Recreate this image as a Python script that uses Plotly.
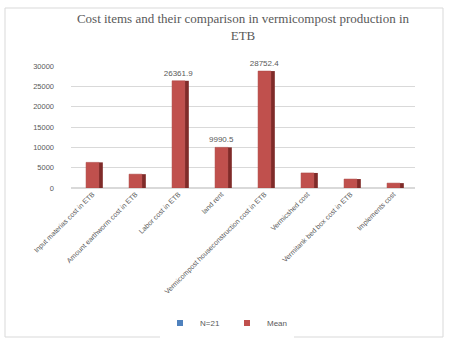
import plotly.graph_objects as go

categories = [
    "Input materias cost in ETB",
    "Amount earthworm cost in ETB",
    "Labor cost in ETB",
    "land rent",
    "Vermicompost houseconstruction cost in ETB",
    "Vermicshed cost",
    "Vermitank bed box cost in ETB",
    "Implements cost",
]
mean_values = [6300, 3400, 26361.9, 9990.5, 28752.4, 3700, 2200, 1200]
mean_labels = ["", "", "26361.9", "9990.5", "28752.4", "", "", ""]
series_names = ["N=21", "Mean"]
y_ticks = [0, 5000, 10000, 15000, 20000, 25000, 30000]

RED = "#C0504D"
RED_DARK = "#7F2B29"
BLUE = "#4F81BD"
GREY = "#595959"

fig = go.Figure()
fig.add_trace(go.Bar(
    x=categories, y=mean_values, name="side",
    marker=dict(color=RED_DARK, line=dict(width=0)),
    offset=0.15, width=0.09, showlegend=False, hoverinfo="skip",
))
fig.add_trace(go.Bar(
    x=categories, y=mean_values, name="Mean",
    marker=dict(color=RED, line=dict(color="#A94441", width=0.5)),
    offset=-0.15, width=0.3,
    text=mean_labels, textposition="outside", constraintext="none",
    textfont=dict(family="Liberation Sans, Arial", size=8, color=GREY),
    cliponaxis=False, showlegend=False,
))
for nm, col in zip(series_names, [BLUE, RED]):
    fig.add_trace(go.Scatter(
        x=[None], y=[None], mode="markers", name=nm,
        marker=dict(symbol="square", size=6, color=col),
    ))

fig.update_layout(
    width=457, height=347,
    barmode="overlay",
    paper_bgcolor="white", plot_bgcolor="white",
    margin=dict(l=71, r=42, t=66, b=159, autoexpand=False),
    title=dict(
        text="Cost items and their comparison in vermicompost production in<br>ETB",
        font=dict(family="Liberation Serif, Times New Roman", size=13, color=GREY),
        x=0.5, xanchor="center", xref="paper",
        y=1 - 23 / 347, yanchor="middle", yref="container",
    ),
    xaxis=dict(
        tickangle=-45,
        tickfont=dict(family="Liberation Sans, Arial", size=7, color=GREY),
        showgrid=False, showline=False, ticks="",
        automargin=False,
    ),
    yaxis=dict(
        range=[0, 30000],
        tickvals=y_ticks,
        tickformat="d",
        tickfont=dict(family="Liberation Sans, Arial", size=7.5, color=GREY),
        showgrid=True, gridcolor="#D9D9D9", gridwidth=1,
        zeroline=True, zerolinecolor="#D9D9D9",
        showline=False, ticks="",
        ticklabelstandoff=16,
        automargin=False,
    ),
    legend=dict(
        orientation="h",
        x=0.5 - 16 / 344, xanchor="center", xref="paper",
        y=1 - 323 / 347, yanchor="middle", yref="container",
        font=dict(family="Liberation Sans, Arial", size=8, color=GREY),
        itemwidth=30, tracegroupgap=0,
        entrywidth=22, entrywidthmode="pixels",
    ),
    shapes=[dict(
        type="rect", xref="paper", yref="paper",
        x0=-66 / 344, x1=(443 - 71) / 344,
        y0=-(337 - 188) / 122, y1=1 + (66 - 8) / 122,
        line=dict(color="#D9D9D9", width=1), fillcolor="rgba(0,0,0,0)",
        layer="below",
    )],
)

fig.write_html("out.html")
